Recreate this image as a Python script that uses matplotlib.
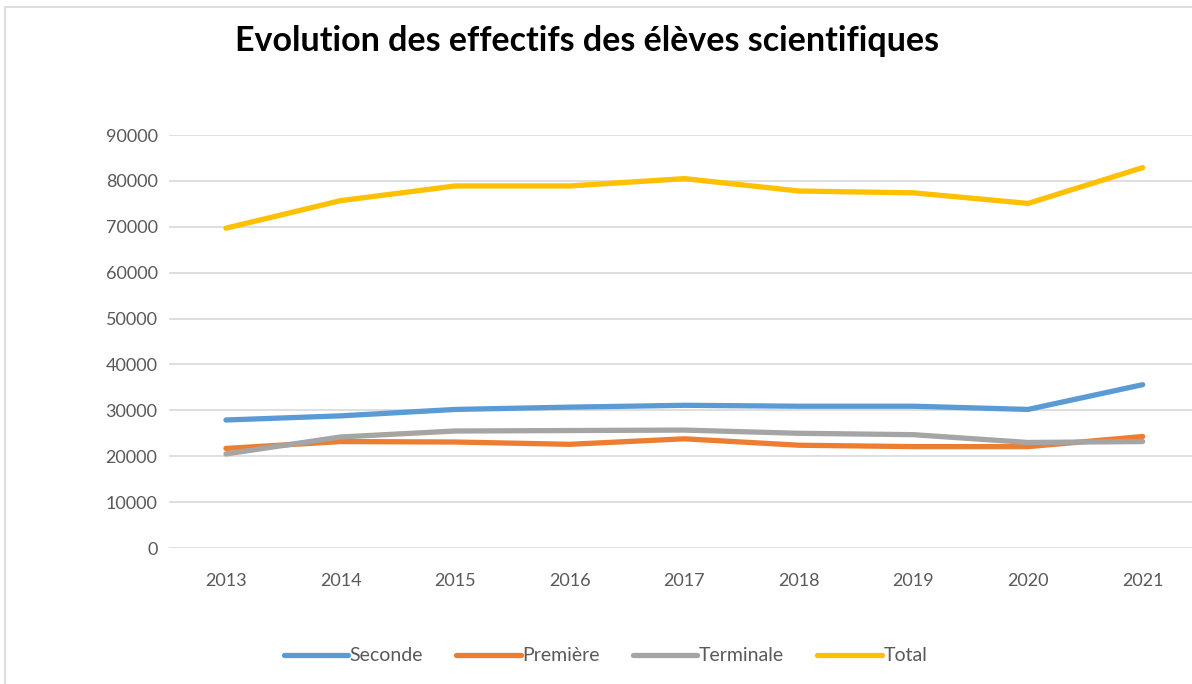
# libraries
import matplotlib.pyplot as plt
from matplotlib.patches import Rectangle

# data
years = ['2013', '2014', '2015', '2016', '2017', '2018', '2019', '2020', '2021']
seconde = [27900, 28800, 30200, 30700, 31100, 30900, 30900, 30200, 35600]
premiere = [21700, 23200, 23100, 22600, 23800, 22400, 22100, 22100, 24300]
terminale = [20500, 24200, 25500, 25600, 25700, 25000, 24700, 23000, 23200]
total = [69700, 75700, 78900, 78900, 80500, 77800, 77400, 75100, 82900]

plt.rcParams['font.family'] = ['Lato', 'DejaVu Sans']

fig = plt.figure(figsize=(11.92, 6.84), dpi=100)
ax = fig.add_axes([0.1415, 0.1988, 0.8652, 0.6038])

r = range(len(years))
lw = 3.8
ax.plot(r, seconde, color='#5B9BD5', lw=lw, label='Seconde', solid_capstyle='round')
ax.plot(r, premiere, color='#ED7D31', lw=lw, label='Première', solid_capstyle='round')
ax.plot(r, terminale, color='#A5A5A5', lw=lw, label='Terminale', solid_capstyle='round')
ax.plot(r, total, color='#FFC000', lw=lw, label='Total', solid_capstyle='round')

ax.set_xlim(-0.5, len(years) - 0.5)
ax.set_ylim(0, 90000)
ax.set_yticks(range(0, 90001, 10000))
ax.set_xticks(list(r))
ax.set_xticklabels(years)
ax.grid(axis='y', color='#D9D9D9', lw=1.2)
ax.set_axisbelow(True)
for s in ax.spines.values():
    s.set_visible(False)
ax.tick_params(length=0, labelsize=13, labelcolor='#595959', pad=8)
ax.tick_params(axis='x', pad=18)

fig.text(0.4925, 0.94, 'Evolution des effectifs des élèves scientifiques',
         ha='center', va='center', fontsize=24.5, fontweight='bold')

fig.legend(loc='center', bbox_to_anchor=(0.508, 0.041), ncol=4, frameon=False,
           fontsize=14, handlelength=3.3, handletextpad=0.1, columnspacing=1.7,
           labelcolor='#595959')

# chart border
fig.patches.append(Rectangle((0.004, -0.05), 1.1, 1.04, transform=fig.transFigure,
                             fill=False, edgecolor='#D9D9D9', lw=1.2))

fig.savefig('out.png', dpi=100)
